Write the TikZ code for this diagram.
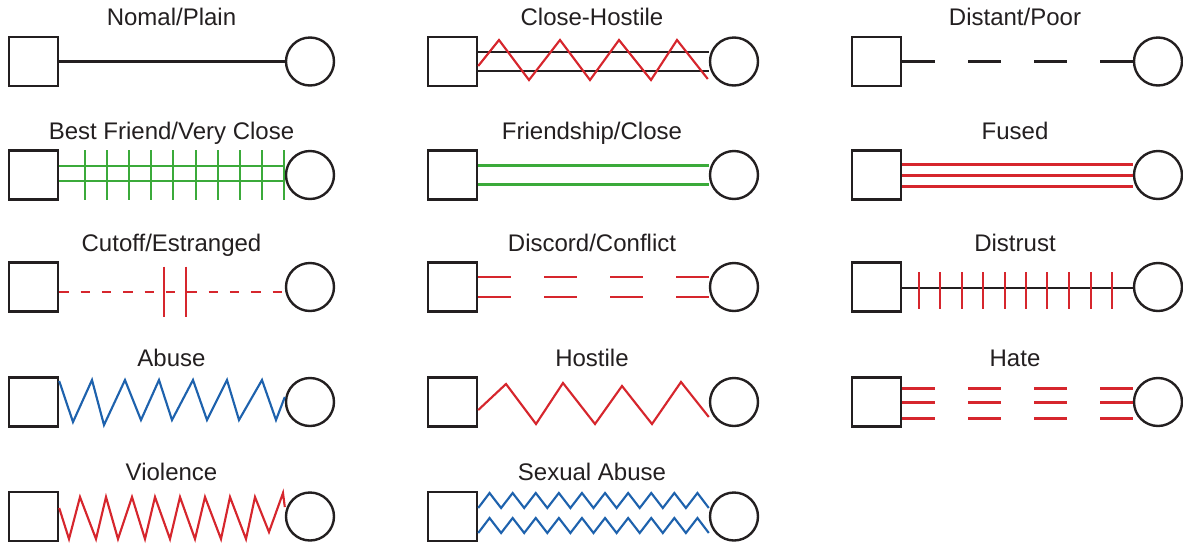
\documentclass[tikz,border=0pt]{standalone}
\usepackage{fontspec}
\setmainfont{Liberation Sans}
\usetikzlibrary{calc}
\definecolor{ink}{HTML}{231F20}
\definecolor{rrd}{HTML}{D6262D}
\definecolor{grn}{HTML}{3BAA3A}
\definecolor{blu}{HTML}{1E62AD}

\begin{document}
\begin{tikzpicture}[x=0.75pt,y=-0.75pt,
  male/.style={draw=ink,line width=1.8pt,minimum size=36.75pt,inner sep=0pt},
  female/.style={circle,draw=ink,line width=1.8pt,minimum size=36pt,inner sep=0pt},
  lbl/.style={anchor=base,font=\fontsize{18}{21}\selectfont,text=ink,inner sep=0pt},
  blk/.style={draw=ink,line width=1.55pt},
  rl/.style={draw=rrd,line width=1.6pt},
  gl/.style={draw=grn,line width=1.6pt},
  bl/.style={draw=blu,line width=1.6pt},
  longdash/.style={dash pattern=on 24.75pt off 24.75pt},
  shortdash/.style={dash pattern=on 7.2pt off 8.8pt},
]
\useasboundingbox (0,0) rectangle (1183,547);

% ---------- people: squares (male) and circles (female) ----------
\foreach \r/\y in {1/61.5,2/175,3/287,4/402,5/516.5}{
  \node[male]   (m\r1) at (33.5,\y)  {};
  \node[female] (f\r1) at (310,\y)   {};
  \node[male]   (m\r2) at (452.5,\y) {};
  \node[female] (f\r2) at (734,\y)   {};
}
\foreach \r/\y in {1/61.5,2/175,3/287,4/402}{
  \node[male]   (m\r3) at (876.5,\y) {};
  \node[female] (f\r3) at (1158,\y)  {};
}

% ---------- labels ----------
\node[lbl] (t11) at (171.5,25.5) {Nomal/Plain};
\node[lbl] (t12) at (592,25.5)   {Close-Hostile};
\node[lbl] (t13) at (1015,25.5)  {Distant/Poor};
\node[lbl] (t21) at (171.5,139)  {Best Friend/Very Close};
\node[lbl] (t22) at (592,139)    {Friendship/Close};
\node[lbl] (t23) at (1015,139)   {Fused};
\node[lbl] (t31) at (171.5,251)  {Cutoff/Estranged};
\node[lbl] (t32) at (592,251)    {Discord/Conflict};
\node[lbl] (t33) at (1015,251)   {Distrust};
\node[lbl] (t41) at (171.5,366)  {Abuse};
\node[lbl] (t42) at (592,366)    {Hostile};
\node[lbl] (t43) at (1015,366)   {Hate};
\node[lbl] (t51) at (171.5,480.5){Violence};
\node[lbl] (t52) at (592,480.5)  {Sexual Abuse};

% ---------- row 1 ----------
% normal / plain
\draw[blk] (m11.east) -- (f11.west);
% close-hostile
\draw[blk] ($(m12.east)+(0,-9.5)$) -- ($(f12.west)+(0,-9.5)$);
\draw[blk] ($(m12.east)+(0,9.5)$)  -- ($(f12.west)+(0,9.5)$);
\draw[rl] ($(m12.east)+(0,4.5)$) -- (499,40) -- (529,80) -- (560,40) -- (590,80)
  -- (619,40) -- (651,80) -- (677,40) -- ($(f12.west)+(-1,17.5)$);
% distant / poor
\draw[blk,longdash] (m13.east) -- (f13.west);

% ---------- row 2 ----------
% best friend / very close
\draw[gl] ($(m21.east)+(0,-9)$) -- ($(f21.west)+(0,-9)$);
\draw[gl] ($(m21.east)+(0,6)$)  -- ($(f21.west)+(0,6)$);
\foreach \x in {85,107,129,151,173,196,218,240,262,284}
  \draw[gl] (\x,150) -- (\x,200);
% friendship / close
\draw[gl] ($(m22.east)+(0,-9.5)$) -- ($(f22.west)+(0,-9.5)$);
\draw[gl] ($(m22.east)+(0,9.5)$)  -- ($(f22.west)+(0,9.5)$);
% fused
\foreach \d in {-10.5,0.5,11.5}
  \draw[rl] ($(m23.east)+(0,\d)$) -- ($(f23.west)+(0,\d)$);

% ---------- row 3 ----------
% cutoff / estranged: dashed link crossed by two bars
\draw[rl,shortdash] ($(m31.east)+(0,5)$) -- ($(f31.west)+(0,5)$);
\coordinate (cutA) at (164,292);
\coordinate (cutB) at (186,292);
\draw[rl] ($(cutA)+(0,-25.5)$) -- ($(cutA)+(0,24.5)$);
\draw[rl] ($(cutB)+(0,-25.5)$) -- ($(cutB)+(0,24.5)$);
% discord / conflict
\draw[rl,longdash] ($(m32.east)+(0,-9.7)$) -- ($(f32.west)+(0,-9.7)$);
\draw[rl,longdash] ($(m32.east)+(0,9.7)$)  -- ($(f32.west)+(0,9.7)$);
% distrust
\draw[blk] ($(m33.east)+(0,1)$) -- ($(f33.west)+(0,1)$);
\foreach \x in {919,940,962,983,1005,1026,1047,1069,1091,1112}
  \draw[rl] (\x,272) -- (\x,309);

% ---------- row 4 ----------
% abuse
\draw[bl] ($(m41.east)+(0,-21)$) -- (73,422) -- (92,380) -- (104,425) -- (125,380)
  -- (141,420) -- (159,380) -- (172,420) -- (193,380) -- (207,420) -- (227,380)
  -- (239,420) -- (262,380) -- (276,420) -- ($(f41.west)+(0,-5)$);
% hostile
\draw[rl] ($(m42.east)+(0,8)$) -- (506,384) -- (536,424) -- (563,383) -- (595,424)
  -- (622,386) -- (652,424) -- (681,382) -- ($(f42.west)+(0,15)$);
% hate
\foreach \d in {-13.5,0.5,16.5}
  \draw[rl,longdash] ($(m43.east)+(0,\d)$) -- ($(f43.west)+(0,\d)$);

% ---------- row 5 ----------
% violence
\draw[rl] ($(m51.east)+(0,-8.5)$) -- (69,539) -- (80,497) -- (96,539) -- (106,497)
  -- (118,539) -- (132,497) -- (145,539) -- (155,497) -- (170,539) -- (180,497)
  -- (195,539) -- (205,497) -- (221,539) -- (230,497) -- (246,539) -- (255,497)
  -- (269,532) -- (283,493) -- ($(f51.west)+(0,-9.5)$);
% sexual abuse
\draw[bl] ($(m52.east)+(0,-8.5)$)
  \foreach \k in {1,...,19}{ -- ({478+11.55*\k},{508-15*mod(\k,2)}) }
  -- ($(f52.west)+(0,-8.5)$);
\draw[bl] ($(m52.east)+(0,16.5)$)
  \foreach \k in {1,...,19}{ -- ({478+11.55*\k},{533-15*mod(\k,2)}) }
  -- ($(f52.west)+(0,16.5)$);
\end{tikzpicture}
\end{document}
